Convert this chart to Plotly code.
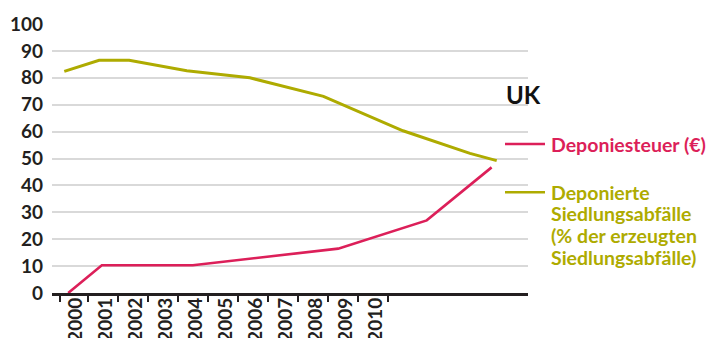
import plotly.graph_objects as go

# ---- data ----
years = list(range(2000, 2011))
year_labels = [str(y) for y in years]
y_ticks = list(range(0, 101, 10))

# Deponiesteuer (€)
tax_x = [1999.85, 2000.97, 2004.0, 2008.84, 2011.79, 2013.95]
tax_y = [0, 10.3, 10.3, 16.5, 27.0, 46.7]

# Deponierte Siedlungsabfälle (% der erzeugten Siedlungsabfälle)
landfill_x = [1999.72, 2000.88, 2001.88, 2003.8, 2005.9, 2008.35, 2011.0, 2013.23, 2014.12]
landfill_y = [82.4, 86.5, 86.5, 82.6, 80.0, 73.1, 60.3, 51.9, 49.2]

legend_tax = "Deponiesteuer (€)"
legend_landfill = ["Deponierte", "Siedlungsabfälle", "(% der erzeugten", "Siedlungsabfälle)"]
title_text = "UK"

# ---- styling ----
PINK = "#dc1f59"
OLIVE = "#aeab00"
DARK = "#231f20"
GRID = "#d9d9d9"
FONT = "Lato"

W, H = 719, 338
L, R, T, B = 52, 528, 24, 45
X_RANGE = [1999.311, 2015.162]
boundaries = [1999.58] + [y + 0.5 for y in years]


def px(x):
    return (x - L) / (R - L)


def py(y):
    return (H - B - y) / (H - T - B)


fig = go.Figure()
fig.add_trace(go.Scatter(x=landfill_x, y=landfill_y, mode="lines",
                         line=dict(color=OLIVE, width=3), hoverinfo="skip"))
fig.add_trace(go.Scatter(x=tax_x, y=tax_y, mode="lines",
                         line=dict(color=PINK, width=2.6), hoverinfo="skip"))
# invisible trace to activate the tick axis
fig.add_trace(go.Scatter(x=[X_RANGE[0]], y=[0], xaxis="x2", mode="markers",
                         marker=dict(opacity=0), hoverinfo="skip"))

tick_font = dict(family=FONT, size=19, color=DARK, weight=700)

fig.update_layout(
    width=W, height=H,
    margin=dict(l=L, r=W - R, t=T, b=B, pad=0, autoexpand=False),
    paper_bgcolor="white", plot_bgcolor="white",
    showlegend=False,
    xaxis=dict(range=X_RANGE, tickmode="array", tickvals=[y + 0.1 for y in years],
               ticktext=year_labels, tickangle=-90, ticks="", showgrid=False,
               zeroline=False, showline=False, tickfont=tick_font, fixedrange=True,
               automargin=False),
    xaxis2=dict(range=X_RANGE, overlaying="x", side="bottom", tickmode="array",
                tickvals=boundaries, ticks="outside", ticklen=6, tickwidth=2,
                tickcolor=DARK, showticklabels=False, showgrid=False,
                zeroline=False, showline=True, linecolor=DARK, linewidth=2.5,
                fixedrange=True, automargin=False),
    yaxis=dict(range=[0, 100], tickmode="array", tickvals=y_ticks,
               showgrid=True, gridcolor=GRID, gridwidth=1.5, zeroline=False,
               showline=False, ticks="", ticklabelstandoff=8, tickfont=tick_font,
               fixedrange=True, automargin=False),
)

annotations = [
    dict(text=title_text, x=px(504), y=py(95), xref="paper", yref="paper",
         xanchor="left", yanchor="middle", showarrow=False,
         font=dict(family=FONT, size=24, color="#111111", weight=700)),
    dict(text=legend_tax, x=px(549), y=py(144), xref="paper", yref="paper",
         xanchor="left", yanchor="middle", showarrow=False,
         font=dict(family=FONT, size=19.5, color=PINK, weight=700)),
]
for i, line in enumerate(legend_landfill):
    annotations.append(dict(text=line, x=px(549), y=py(192 + 21.7 * i),
                            xref="paper", yref="paper", xanchor="left",
                            yanchor="middle", showarrow=False,
                            font=dict(family=FONT, size=19.5, color=OLIVE, weight=700)))
fig.update_layout(annotations=annotations)

fig.add_shape(type="line", xref="paper", yref="paper", x0=px(505), x1=px(545),
              y0=py(144), y1=py(144), line=dict(color=PINK, width=2.6))
fig.add_shape(type="line", xref="paper", yref="paper", x0=px(505), x1=px(545),
              y0=py(192.3), y1=py(192.3), line=dict(color=OLIVE, width=2.6))

fig.write_html("out.html")
